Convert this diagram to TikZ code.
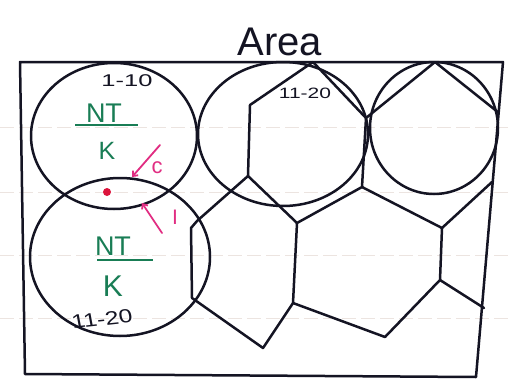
\documentclass[tikz,border=0pt]{standalone}
\usepackage{fontspec}
\setmainfont{Liberation Sans}
\usetikzlibrary{arrows.meta}
\definecolor{ink}{RGB}{20,20,35}
\definecolor{grn}{RGB}{25,125,85}
\definecolor{pnk}{RGB}{225,45,130}
\definecolor{reddot}{RGB}{220,20,60}
\definecolor{ruling}{RGB}{236,228,224}
\begin{document}
\begin{tikzpicture}[x=1pt,y=-1pt,
  pen/.style={draw=ink,line width=2.5pt,line join=round,line cap=round},
  inktext/.style={text=ink,inner sep=0pt},
  grntext/.style={text=grn,inner sep=0pt},
  pnktext/.style={text=pnk,inner sep=0pt},
  pnkarrow/.style={draw=pnk,line width=1.8pt,line cap=round,-{Straight Barb[length=4pt,width=7pt]}}]
\fill[white] (0,0) rectangle (509,383);
\useasboundingbox (0,0) rectangle (509,383);
% faint ruled paper lines
\foreach \yy in {127,192,255,318}
  \draw[ruling,line width=0.8pt,dash pattern=on 14pt off 5pt] (0,\yy) -- (509,\yy);
% outer frame
\draw[pen] (20,62) -- (503,62) -- (476,377) -- (25,374) -- cycle;
% circles
\draw[pen] (114,136) ellipse [x radius=83, y radius=73];
\draw[pen] (120,257) ellipse [x radius=90, y radius=79];
\draw[pen] (283,134) ellipse [x radius=85, y radius=72];
\draw[pen] (434,128) ellipse [x radius=64, y radius=66];
% hexagons
\draw[pen] (313,62) -- (250,105) -- (248,176) -- (297,223) -- (362,187) -- (366,118) -- cycle;
\draw[pen] (435,62) -- (366,118);
\draw[pen] (362,187) -- (442,228) -- (492,182);
\draw[pen] (435,62) -- (499,113);
\draw[pen] (197,221) -- (248,176);
\draw[pen] (297,223) -- (293,303) -- (263,348) -- (192,298) -- (191,228) -- (197,221);
\draw[pen] (442,228) -- (440,280) -- (385,337) -- (293,303);
\draw[pen] (440,280) -- (484,308);
% texts
\node[inktext,font=\fontsize{40}{40}\selectfont,anchor=base] (title) at (280,55) {Area};
\node[inktext,font=\fontsize{17}{17}\selectfont,xscale=1.5] (r1) at (127,81) {1-10};
\node[inktext,font=\fontsize{15}{15}\selectfont,xscale=1.4] (r2) at (305,93) {11-20};
\node[inktext,font=\fontsize{19}{19}\selectfont,xscale=1.3,rotate=8] (r3) at (102,319) {11-20};
\node[grntext,font=\fontsize{27}{27}\selectfont] (nt1) at (104,113) {NT};
\draw[grn,line width=2pt] (75,125) -- (138,125);
\node[grntext,font=\fontsize{25}{25}\selectfont] (k1) at (107,151) {K};
\node[grntext,font=\fontsize{27}{27}\selectfont] (nt2) at (113,246) {NT};
\draw[grn,line width=2pt] (97,260) -- (153,260);
\node[grntext,font=\fontsize{30}{30}\selectfont] (k2) at (113,286) {K};
% pink marks
\fill[reddot] (107,192) circle (4);
\coordinate (c0) at (160,145);
\coordinate (c1) at (132,177);
\draw[pnkarrow] (c0) -- (c1);
\node[pnktext,font=\fontsize{22}{22}\selectfont] (cl) at (157,168) {c};
\coordinate (i0) at (162,233);
\coordinate (i1) at (142,203);
\draw[pnkarrow] (i0) -- (i1);
\node[pnktext,font=\fontsize{21}{21}\selectfont] (il) at (175,217) {I};
\end{tikzpicture}
\end{document}
